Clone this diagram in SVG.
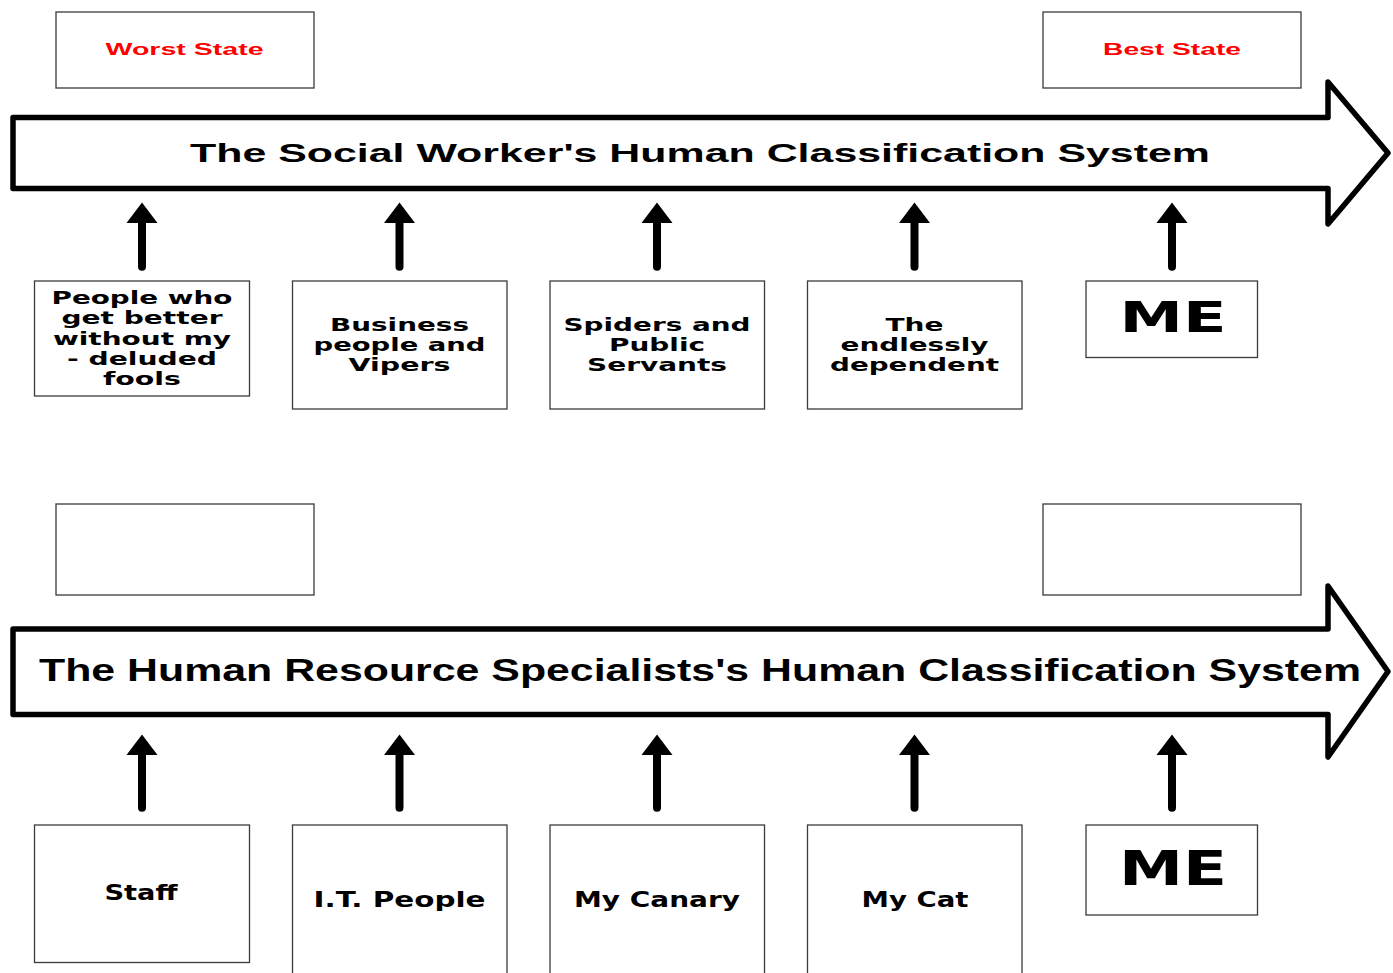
<svg xmlns="http://www.w3.org/2000/svg" width="1393" height="973" viewBox="0 0 1393 973">
<style>
.box{fill:#fff;stroke:#3a3a3a;stroke-width:1.3}
.big{fill:#fff;stroke:#000;stroke-width:5.5;stroke-linejoin:round}
.shaft{stroke:#000;stroke-width:8;stroke-linecap:round;fill:none}
.st{font-family:"Liberation Sans",Arial,sans-serif;font-weight:bold;font-size:17.2px;fill:#ff0000;text-anchor:middle}
.ttl{font-family:"Liberation Sans",Arial,sans-serif;font-weight:bold;fill:#000;text-anchor:middle}
.nt{font-family:"DejaVu Sans",Verdana,sans-serif;font-weight:bold;font-size:17.4px;fill:#000;text-anchor:middle}
.nb{font-family:"DejaVu Sans",Verdana,sans-serif;font-weight:bold;font-size:20.6px;fill:#000;text-anchor:middle}
.me{font-family:"DejaVu Sans",Verdana,sans-serif;font-weight:bold;fill:#000;text-anchor:middle}
</style>
<defs>
<marker id="ah" markerUnits="userSpaceOnUse" markerWidth="22" markerHeight="31" viewBox="0 0 21 31" refX="0" refY="15.5" orient="auto" overflow="visible">
<path d="M0,0 L20.5,15.5 L0,31 Z" fill="#000"/>
</marker>
</defs>
<rect width="1393" height="973" fill="#fff"/>

<g id="worst-state"><rect class="box" x="56" y="12" width="258" height="76"/><text class="st" x="184.5" y="55" textLength="158" lengthAdjust="spacingAndGlyphs">Worst State</text></g>
<g id="best-state"><rect class="box" x="1043" y="12" width="258" height="76"/><text class="st" x="1172" y="55" textLength="138" lengthAdjust="spacingAndGlyphs">Best State</text></g>

<g id="social-axis"><path class="big" d="M13,117.5 L1328,117.5 L1328,82 L1388,153 L1328,224 L1328,188.5 L13,188.5 Z"/><text class="ttl" x="700" y="161.7" font-size="26.5" textLength="1020" lengthAdjust="spacingAndGlyphs">The Social Worker's Human Classification System</text></g>

<g id="sw-1"><rect class="box" x="34.5" y="281" width="215" height="115"/>
<text class="nt" x="142" y="304" textLength="181" lengthAdjust="spacingAndGlyphs">People who</text>
<text class="nt" x="142" y="324.3" textLength="161" lengthAdjust="spacingAndGlyphs">get better</text>
<text class="nt" x="142" y="344.6" textLength="178" lengthAdjust="spacingAndGlyphs">without my</text>
<text class="nt" x="142" y="364.9" textLength="150" lengthAdjust="spacingAndGlyphs">- deluded</text>
<text class="nt" x="142" y="385.2" textLength="78" lengthAdjust="spacingAndGlyphs">fools</text></g>
<g id="sw-2"><rect class="box" x="292.5" y="281" width="214.5" height="128"/>
<text class="nt" x="399.5" y="330.5" textLength="139" lengthAdjust="spacingAndGlyphs">Business</text>
<text class="nt" x="399.5" y="350.5" textLength="172" lengthAdjust="spacingAndGlyphs">people and</text>
<text class="nt" x="399.5" y="370.5" textLength="102" lengthAdjust="spacingAndGlyphs">Vipers</text></g>
<g id="sw-3"><rect class="box" x="550" y="281" width="214.5" height="128"/>
<text class="nt" x="657" y="330.5" textLength="187" lengthAdjust="spacingAndGlyphs">Spiders and</text>
<text class="nt" x="657" y="350.5" textLength="96" lengthAdjust="spacingAndGlyphs">Public</text>
<text class="nt" x="657" y="370.5" textLength="140" lengthAdjust="spacingAndGlyphs">Servants</text></g>
<g id="sw-4"><rect class="box" x="807.5" y="281" width="214.5" height="128"/>
<text class="nt" x="914.5" y="330.5" textLength="58" lengthAdjust="spacingAndGlyphs">The</text>
<text class="nt" x="914.5" y="350.5" textLength="148" lengthAdjust="spacingAndGlyphs">endlessly</text>
<text class="nt" x="914.5" y="370.5" textLength="169" lengthAdjust="spacingAndGlyphs">dependent</text></g>
<g id="sw-me"><rect class="box" x="1086" y="281" width="171.5" height="76.5"/>
<text class="me" x="1173" y="332.3" font-size="43" textLength="107" lengthAdjust="spacingAndGlyphs">ME</text></g>

<g id="hr-left"><rect class="box" x="56" y="504" width="258" height="91"/></g>
<g id="hr-right"><rect class="box" x="1043" y="504" width="258" height="91"/></g>

<g id="hr-axis"><path class="big" d="M13,629 L1328,629 L1328,586 L1388,671.5 L1328,757 L1328,714.5 L13,714.5 Z"/><text class="ttl" x="700" y="680.7" font-size="31" textLength="1322" lengthAdjust="spacingAndGlyphs">The Human Resource Specialists's Human Classification System</text></g>

<g id="hr-1"><rect class="box" x="34.5" y="825" width="215" height="137.5"/>
<text class="nb" x="141" y="900" textLength="73" lengthAdjust="spacingAndGlyphs">Staff</text></g>
<g id="hr-2"><rect class="box" x="292.5" y="825" width="214.5" height="170"/>
<text class="nb" x="399.5" y="907.3" textLength="172" lengthAdjust="spacingAndGlyphs">I.T. People</text></g>
<g id="hr-3"><rect class="box" x="550" y="825" width="214.5" height="170"/>
<text class="nb" x="657" y="907.3" textLength="166" lengthAdjust="spacingAndGlyphs">My Canary</text></g>
<g id="hr-4"><rect class="box" x="807.5" y="825" width="214.5" height="170"/>
<text class="nb" x="915" y="907.3" textLength="107" lengthAdjust="spacingAndGlyphs">My Cat</text></g>
<g id="hr-me"><rect class="box" x="1086" y="825" width="171.5" height="90"/>
<text class="me" x="1173" y="885" font-size="48" textLength="108" lengthAdjust="spacingAndGlyphs">ME</text></g>

<g id="connectors">
<line class="shaft" x1="142" y1="266.7" x2="142" y2="223" marker-end="url(#ah)"/>
<line class="shaft" x1="399.5" y1="266.7" x2="399.5" y2="223" marker-end="url(#ah)"/>
<line class="shaft" x1="657" y1="266.7" x2="657" y2="223" marker-end="url(#ah)"/>
<line class="shaft" x1="914.5" y1="266.7" x2="914.5" y2="223" marker-end="url(#ah)"/>
<line class="shaft" x1="1172" y1="266.7" x2="1172" y2="223" marker-end="url(#ah)"/>
<line class="shaft" x1="142" y1="807.7" x2="142" y2="755" marker-end="url(#ah)"/>
<line class="shaft" x1="399.5" y1="807.7" x2="399.5" y2="755" marker-end="url(#ah)"/>
<line class="shaft" x1="657" y1="807.7" x2="657" y2="755" marker-end="url(#ah)"/>
<line class="shaft" x1="914.5" y1="807.7" x2="914.5" y2="755" marker-end="url(#ah)"/>
<line class="shaft" x1="1172" y1="807.7" x2="1172" y2="755" marker-end="url(#ah)"/>
</g>
</svg>
